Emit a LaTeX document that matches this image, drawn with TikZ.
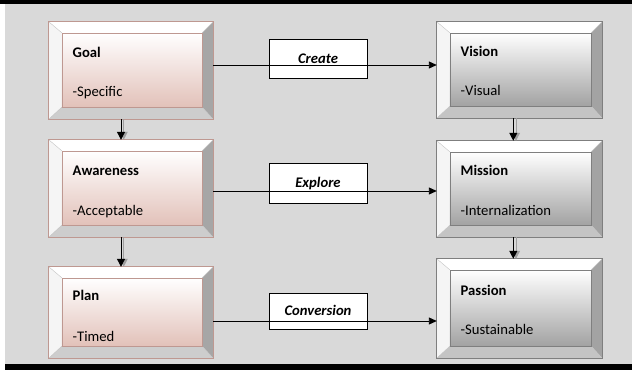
\documentclass[tikz,border=0pt]{standalone}
\usepackage{fontspec}
\setmainfont{Carlito}
\usetikzlibrary{arrows.meta,fit}
\definecolor{bg}{HTML}{D9D9D9}
\definecolor{pinkface}{HTML}{E2C1B9}
\definecolor{pinkedge}{HTML}{BE9891}
\definecolor{pinkR}{HTML}{A6A6A6}
\definecolor{pinkB}{HTML}{CDCDCD}
\definecolor{greyface}{HTML}{A2A2A2}
\definecolor{greyedge}{HTML}{7F7F7F}
\definecolor{greyR}{HTML}{A3A3A3}
\definecolor{greyB}{HTML}{C4C4C4}
\newcommand\bevbox[6]{%
  \coordinate (#1NW) at (#2,#3);
  \coordinate (#1SE) at (#4,#5);
  \node[inner sep=0pt, fit=(#1NW)(#1SE)] (#1) {};
  \coordinate (#1A) at ([shift={(13,11)}]#1.north west);
  \coordinate (#1B) at ([shift={(-11,-12)}]#1.south east);
  \fill[white] (#1.north west) -- (#1.north east) -- (#1B |- #1A) -- (#1A) -- cycle;
  \fill[white!96!black] (#1.north west) -- (#1A) -- (#1A |- #1B) -- (#1.south west) -- cycle;
  \fill[#6R] (#1.north east) -- (#1.south east) -- (#1B) -- (#1B |- #1A) -- cycle;
  \fill[#6B] (#1.south west) -- (#1.south east) -- (#1B) -- (#1A |- #1B) -- cycle;
  \shade[top color=white, bottom color=#6face] (#1A) rectangle (#1B);
  \draw[bevline] (#1.north west) -- (#1A) (#1.north east) -- (#1B |- #1A)
     (#1.south west) -- (#1A |- #1B) (#1.south east) -- (#1B);
  \draw[#6edge, line width=0.4pt] (#1A) rectangle (#1B);
  \draw[#6edge, line width=0.9pt] (#1.north west) rectangle (#1.south east);
}
\tikzset{
  bevline/.style={gray!45, line width=0.4pt},
  ttl/.style={anchor=base west, inner sep=0pt, font=\fontsize{14.67}{17}\selectfont\bfseries},
  sub/.style={anchor=base west, inner sep=0pt, font=\fontsize{14.67}{17}\selectfont},
  lab/.style={draw=black, fill=white, line width=0.8pt, minimum width=98pt,
     inner sep=0pt, text height=9.4pt, text depth=0pt,
     font=\fontsize{14.67}{17}\selectfont\bfseries\itshape},
  harr/.style={draw=black, line width=0.9pt, -{Triangle[width=7pt,length=8pt]}},
  varr/.style={draw=black, line width=1pt, -{Triangle[width=8pt,length=8pt]}},
  vshad/.style={draw=gray!75, line width=1pt, -{Triangle[width=8pt,length=8pt]}},
}
\begin{document}
\begin{tikzpicture}[x=1pt,y=-1pt]
\useasboundingbox (0,0) rectangle (637,380);
\fill[bg] (5,4) rectangle (632,363.5);
\fill[black] (0,0) rectangle (632,4);
\fill[black] (5,363.5) rectangle (632,369.5);

\bevbox{goal}{49}{22}{213}{119}{pink}
\bevbox{aware}{49}{140}{213}{237}{pink}
\bevbox{plan}{49}{267}{213}{358}{pink}
\bevbox{vision}{437}{22}{602}{118}{grey}
\bevbox{mission}{437}{141}{602}{237}{grey}
\bevbox{passion}{437}{259}{602}{358}{grey}

\node[ttl] (goalT) at (72.5,57.5) {Goal};
\node[sub] (goalS) at (72.5,96) {-Specific};
\node[ttl] (awareT) at (72.5,175.5) {Awareness};
\node[sub] (awareS) at (72.5,215.5) {-Acceptable};
\node[ttl] (planT) at (72.5,300.5) {Plan};
\node[sub] (planS) at (72.5,341.5) {-Timed};
\node[ttl] (visionT) at (460.5,56.5) {Vision};
\node[sub] (visionS) at (460.5,95) {-Visual};
\node[ttl] (missionT) at (460.5,175) {Mission};
\node[sub] (missionS) at (460.5,215.5) {-Internalization};
\node[ttl] (passionT) at (460.5,295) {Passion};
\node[sub] (passionS) at (460.5,334) {-Sustainable};

\node[lab, minimum height=39pt] (create) at (318,58.5) {Create};
\node[lab, minimum height=40pt] (explore) at (318,183) {Explore};
\node[lab, minimum height=36pt] (conv) at (318,311) {Conversion};

\coordinate (h1) at (0,65);
\coordinate (h2) at (0,191);
\coordinate (h3) at (0,321);
\draw[harr] (goal.east |- h1) -- (vision.west |- h1);
\draw[harr] (aware.east |- h2) -- (mission.west |- h2);
\draw[harr] (plan.east |- h3) -- (passion.west |- h3);

\coordinate (vl) at (121,0);
\coordinate (vls) at (123.7,0);
\coordinate (vr) at (513.3,0);
\coordinate (vrs) at (516,0);
\draw[vshad] (goal.south -| vls) -- (aware.north -| vls);
\draw[varr] (goal.south -| vl) -- (aware.north -| vl);
\draw[vshad] (aware.south -| vls) -- (plan.north -| vls);
\draw[varr] (aware.south -| vl) -- (plan.north -| vl);
\draw[vshad] (vision.south -| vrs) -- (mission.north -| vrs);
\draw[varr] (vision.south -| vr) -- (mission.north -| vr);
\draw[vshad] (mission.south -| vrs) -- (passion.north -| vrs);
\draw[varr] (mission.south -| vr) -- (passion.north -| vr);
\end{tikzpicture}
\end{document}
